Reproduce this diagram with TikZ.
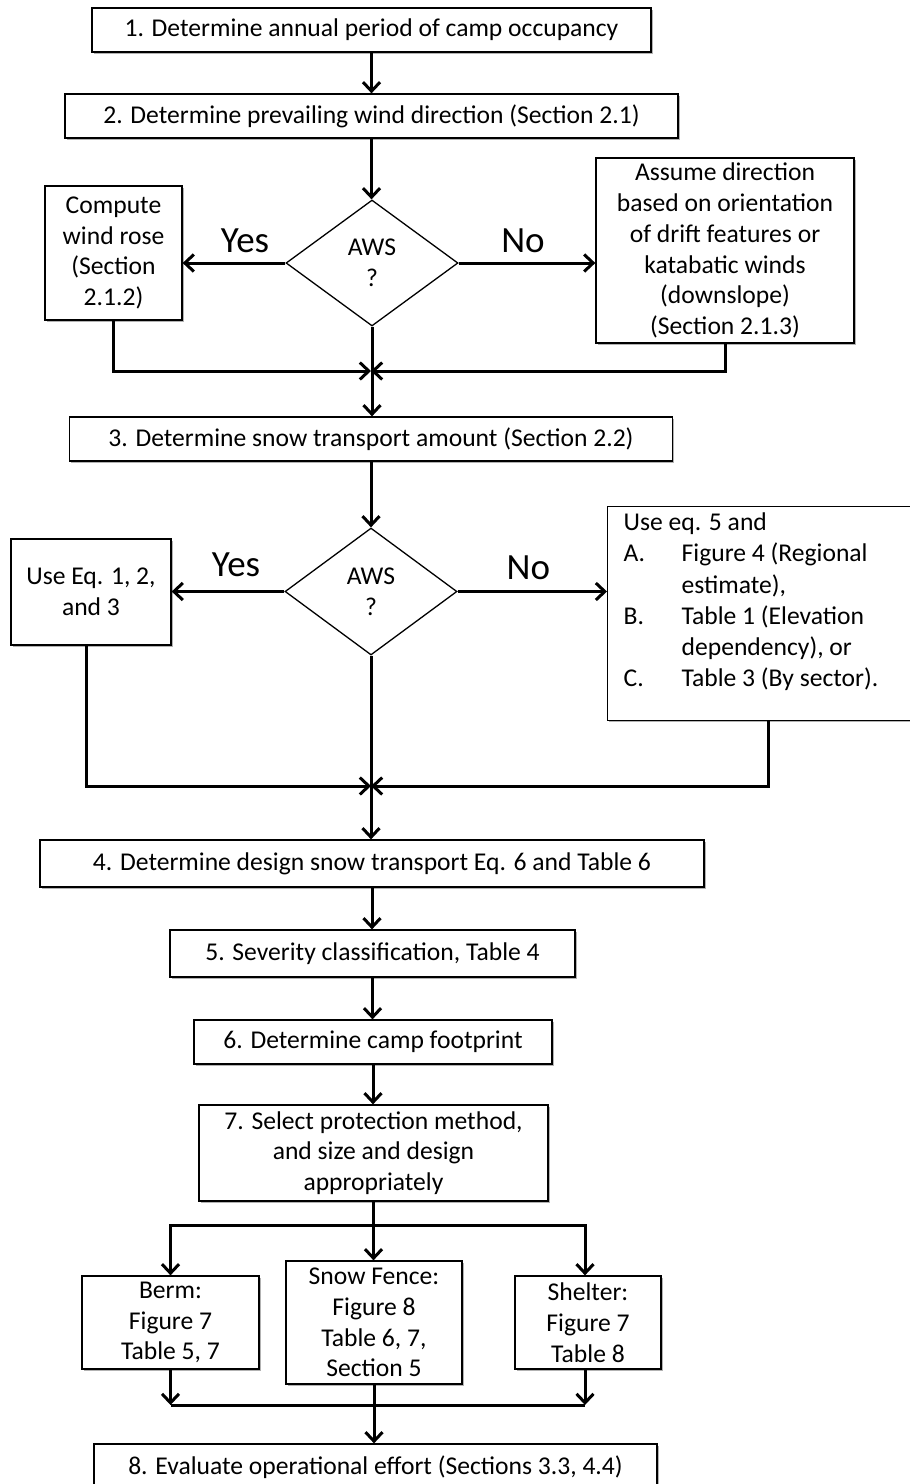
\documentclass[tikz,border=0pt]{standalone}
\usepackage{fontspec}
\setmainfont{Carlito}
\usetikzlibrary{arrows.meta,shapes.geometric,shadows}
\newcommand\boxfont{\fontsize{25.6}{30.8}\selectfont}
\begin{document}
\begin{tikzpicture}[x=1pt,y=-1pt,
 box/.style={draw, line width=1.3pt, fill=white, inner sep=0pt, align=center, font=\boxfont,
   drop shadow={shadow xshift=1.5pt,shadow yshift=-1.5pt,fill=black,opacity=0.3}},
 dia/.style={diamond, draw, line width=1.3pt, fill=white, inner sep=0pt, align=center, font=\boxfont},
 arr/.style={line width=3pt, -{Straight Barb[length=9pt,width=17pt]}},
 ln/.style={line width=3pt},
 lab/.style={font=\fontsize{37}{42}\selectfont, inner sep=0pt}]
\useasboundingbox[fill=white] (0,0) rectangle (910,1484);

\node[box, minimum width=559, minimum height=44] (b1) at (371.5,30) {1. Determine annual period of camp occupancy};
\node[box, minimum width=613, minimum height=44] (b2) at (371.5,116) {2. Determine prevailing wind direction (Section 2.1)};
\node[dia, minimum width=172, minimum height=126] (d1) at (372,263) {AWS\\?};
\node[box, minimum width=137, minimum height=134] (cw) at (113.5,253) {Compute\\wind rose\\(Section\\2.1.2)};
\node[box, minimum width=258, minimum height=185] (as) at (725,250.5) {Assume direction\\based on orientation\\of drift features or\\katabatic winds\\(downslope)\\(Section 2.1.3)};
\node[box, minimum width=603, minimum height=44] (b3) at (371,439) {3. Determine snow transport amount (Section 2.2)};
\node[dia, minimum width=172, minimum height=127] (d2) at (371,591.5) {AWS\\?};
\node[box, minimum width=160, minimum height=106] (ue) at (91,592) {Use Eq. 1, 2,\\and 3};
\node[box, anchor=north west, align=left, inner xsep=16pt, inner ysep=6pt] (uq) at (607,506)
 {\parbox[t][202pt][t]{282pt}{\raggedright\fontsize{25.6}{31.3}\selectfont Use eq. 5 and\\
  \makebox[58pt][l]{A.}Figure 4 (Regional\\
  \hspace*{58pt}estimate),\\
  \makebox[58pt][l]{B.}Table 1 (Elevation\\
  \hspace*{58pt}dependency), or\\
  \makebox[58pt][l]{C.}Table 3 (By sector).}};
\node[box, minimum width=664, minimum height=47] (b4) at (372,863.5) {4. Determine design snow transport Eq. 6 and Table 6};
\node[box, minimum width=405, minimum height=47] (b5) at (372.5,953.5) {5. Severity classification, Table 4};
\node[box, minimum width=358, minimum height=44] (b6) at (373,1042) {6. Determine camp footprint};
\node[box, minimum width=349, minimum height=96] (b7) at (373.5,1153) {7. Select protection method,\\and size and design\\appropriately};
\node[box, minimum width=177, minimum height=93] (be) at (170.5,1322.5) {Berm:\\Figure 7\\Table 5, 7};
\node[box, minimum width=176, minimum height=123] (sf) at (374,1322.5) {Snow Fence:\\Figure 8\\Table 6, 7,\\Section 5};
\node[box, minimum width=146, minimum height=93] (sh) at (588,1322.5) {Shelter:\\Figure 7\\Table 8};
\node[box, minimum width=563, minimum height=46] (b8) at (375.5,1467) {8. Evaluate operational effort (Sections 3.3, 4.4)};

% connectors
\draw[arr] (b1.south) -- (b1.south |- b2.north);
\draw[arr] (b2.south) -- (b2.south |- d1.north);
\draw[arr] (d1.west) -- (d1.west -| cw.east) node[lab, midway, xshift=11pt, yshift=22pt] {Yes};
\draw[arr] (d1.east) -- (d1.east -| as.west) node[lab, midway, xshift=-4pt, yshift=22pt] {No};
\coordinate (j1) at (371,371);
\draw[arr] (cw.south) |- (j1);
\draw[arr] (as.south) |- (j1);
\draw[arr] (d1.south) -- (d1.south |- b3.north);

\draw[arr] (b3.south) -- (b3.south |- d2.north);
\draw[arr] (d2.west) -- (d2.west -| ue.east) node[lab, midway, xshift=8pt, yshift=27pt] {Yes};
\draw[arr] (d2.east) -- (d2.east -| uq.west) node[lab, midway, xshift=-4pt, yshift=24pt] {No};
\coordinate (j2) at (371,786);
\draw[arr] ([xshift=-5pt]ue.south) |- (j2);
\draw[arr] ([xshift=4pt]uq.south) |- (j2);
\draw[arr] (d2.south) -- (d2.south |- b4.north);

\draw[arr] (b4.south) -- (b4.south |- b5.north);
\draw[arr] (b5.south) -- (b5.south |- b6.north);
\draw[arr] (b6.south) -- (b6.south |- b7.north);

\coordinate (s1) at (373.5,1225);
\draw[ln] (b7.south) -- (s1);
\draw[arr] (s1) -- (s1 |- sf.north);
\draw[arr] (s1) -| (be.north);
\draw[arr] (s1) -| ([xshift=-3pt]sh.north);

\coordinate (mb) at (170.5,1405);
\coordinate (ms) at (585,1405);
\draw[arr] (be.south) -- (mb);
\draw[arr] ([xshift=-3pt]sh.south) -- (ms);
\draw[ln] (mb) -- (ms);
\draw[arr] (sf.south) -- (sf.south |- b8.north);
\end{tikzpicture}
\end{document}
